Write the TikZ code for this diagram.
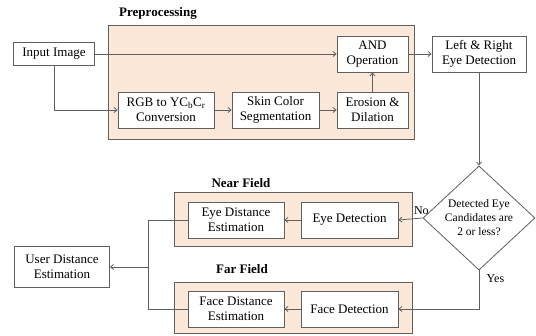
\documentclass[tikz,border=0pt]{standalone}
\usepackage{fontspec}
\setmainfont{Liberation Serif}
\usetikzlibrary{arrows.meta, shapes.geometric}

\definecolor{peach}{RGB}{252,232,217}
\definecolor{linegray}{RGB}{95,95,95}

\tikzset{
  box/.style={draw=linegray, fill=white, line width=0.8pt, inner sep=0pt,
    minimum width=#1, minimum height=36pt, align=center,
    font=\fontsize{13}{15}\selectfont},
  box/.default=96pt,
  group/.style={draw=linegray, fill=peach, line width=0.8pt},
  title/.style={font=\fontsize{13}{15}\selectfont\bfseries},
  flow/.style={draw=linegray, line width=0.8pt, -{Straight Barb[length=3pt,width=5pt]}},
  plain/.style={draw=linegray, line width=0.8pt},
  lbl/.style={font=\fontsize{12}{14}\selectfont}
}

\begin{document}
\begin{tikzpicture}[x=1pt, y=-1pt]
\useasboundingbox (0,0) rectangle (536,336);
% groups
\draw[group] (108,25) rectangle (414,139);
\draw[group] (174,192) rectangle (412,246);
\draw[group] (174,282) rectangle (412,333);
\node[title] at (158,13) {Preprocessing};
\node[title] at (241,183) {Near Field};
\node[title] at (242,269) {Far Field};
% nodes
\node[box=81pt, minimum height=23pt] (in) at (54,54) {Input Image};
\node[box=71pt] (and) at (372.5,54) {AND\\Operation};
\node[box=94pt] (lr) at (479,54) {Left \& Right\\Eye Detection};
\node[box=96pt] (rgb) at (166,110) {RGB to YC\textsubscript{b}C\textsubscript{r}\\Conversion};
\node[box=87pt] (skin) at (275.5,110) {Skin Color\\Segmentation};
\node[box=71pt] (ero) at (372.5,110) {Erosion \&\\Dilation};
\node[draw=linegray, fill=white, line width=0.8pt, diamond, inner sep=0pt,
  minimum width=112pt, minimum height=87pt, align=center,
  font=\fontsize{11.5}{14}\selectfont] (dec) at (479,218)
  {Detected Eye\\Candidates are\\2 or less?};
\node[box=97pt] (eyedet) at (349.5,220) {Eye Detection};
\node[box=96pt] (eyedist) at (236,220) {Eye Distance\\Estimation};
\node[box=97pt] (facedet) at (349.5,309) {Face Detection};
\node[box=96pt] (facedist) at (236,309) {Face Distance\\Estimation};
\node[box=95pt, minimum height=41pt] (user) at (62,267) {User Distance\\Estimation};
\coordinate (join) at (148,267);
% connectors
\draw[flow] (in.east) -- (and.west);
\draw[flow] (in.south) |- (rgb.west);
\draw[flow] (rgb) -- (skin);
\draw[flow] (skin) -- (ero);
\draw[flow] (ero) -- (and);
\draw[flow] (and) -- (lr);
\draw[flow] (lr.south) -- (dec.north);
\draw[flow] (dec.west) -- (eyedet.east) node[lbl, pos=0.05, above] {No};
\draw[flow] (dec.south) |- (facedet.east) node[lbl, pos=0.1, right=4pt] {Yes};
\draw[flow] (eyedet) -- (eyedist);
\draw[flow] (facedet) -- (facedist);
\draw[plain] (eyedist.west) -| (join);
\draw[plain] (facedist.west) -| (join);
\draw[flow] (join) -- (user.east);
\end{tikzpicture}
\end{document}
